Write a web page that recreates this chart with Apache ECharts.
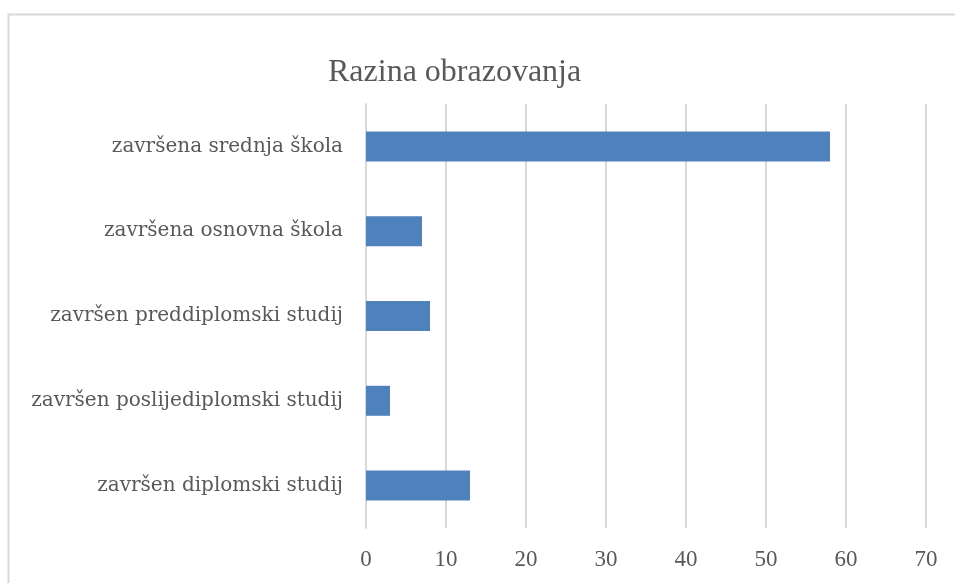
<!DOCTYPE html>
<html>
<head>
	<meta charset="utf-8">
	<title>Razina obrazovanja</title>
	<script src="https://cdn.jsdelivr.net/npm/echarts@6/dist/echarts.min.js"></script>
	<style type="text/css">
		html, body { margin: 0; padding: 0; background: #ffffff; }
		#chartContainer { width: 955px; height: 583px; }
	</style>
</head>
<body>
	<div id="chartContainer"></div>
	<script type="text/javascript">
		// bottom to top, as the category axis draws them
		var categories = [
			'završen diplomski studij',
			'završen poslijediplomski studij',
			'završen preddiplomski studij',
			'završena osnovna škola',
			'završena srednja škola'
		];
		var values = [13, 3, 8, 7, 58];
		var ticks = [0, 10, 20, 30, 40, 50, 60, 70];

		var myChart = echarts.init(document.getElementById('chartContainer'));
		var option = {
			backgroundColor: '#ffffff',
			animation: false,
			graphic: [{
				type: 'rect',
				shape: { x: 8.5, y: 14.5, width: 1000, height: 700 },
				style: { fill: 'none', stroke: '#d9d9d9', lineWidth: 2 },
				silent: true
			}],
			title: {
				text: 'Razina obrazovanja',
				left: 323,
				top: 52,
				textStyle: {
					fontFamily: 'Liberation Serif',
					fontWeight: 'normal',
					fontSize: 32,
					color: '#595959'
				}
			},
			grid: { left: 366, right: 29, top: 104, bottom: 55 },
			xAxis: {
				type: 'value',
				min: ticks[0],
				max: ticks[ticks.length - 1],
				interval: 10,
				axisLine: { show: false },
				axisTick: { show: false },
				axisLabel: {
					margin: 20,
					fontFamily: 'Liberation Serif',
					fontSize: 23,
					color: '#595959'
				},
				splitLine: { lineStyle: { color: '#d9d9d9', width: 2 } }
			},
			yAxis: {
				type: 'category',
				data: categories,
				axisLine: { lineStyle: { color: '#d9d9d9', width: 2 } },
				axisTick: { show: false },
				axisLabel: {
					margin: 23,
					fontFamily: 'DejaVu Serif',
					fontSize: 20,
					color: '#595959'
				}
			},
			series: [{
				type: 'bar',
				data: values,
				barWidth: 30,
				itemStyle: { color: '#4f81bd' }
			}]
		};
		myChart.setOption(option);
	</script>
</body>
</html>
